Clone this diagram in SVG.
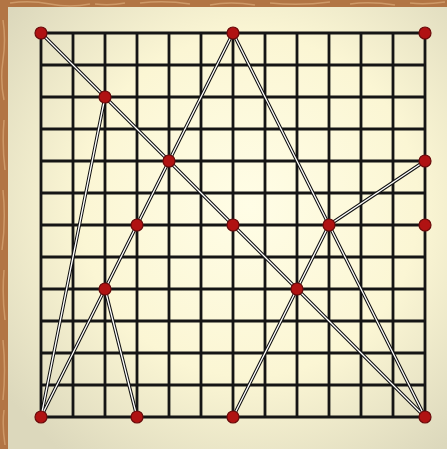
<svg xmlns="http://www.w3.org/2000/svg" width="447" height="449" viewBox="0 0 447 449">
<defs>
<radialGradient id="bg" cx="0.55" cy="0.45" r="0.7">
<stop offset="0" stop-color="#fffde6"/>
<stop offset="0.55" stop-color="#fbf6d4"/>
<stop offset="1" stop-color="#dcd8bc"/>
</radialGradient>
</defs>
<style>
.grid line{stroke:#151515;stroke-width:2.8}
.edge-o{stroke:#111;stroke-width:3.4;fill:none;stroke-linecap:round}
.edge-i{stroke:#fff;stroke-width:1.3;fill:none;stroke-linecap:round}
.dot{fill:#b01212;stroke:#6a0a0a;stroke-width:1.2}
</style>
<rect x="0" y="0" width="447" height="449" fill="#b27544"/>
<g stroke="#d9a978" stroke-width="1.5" fill="none" opacity="0.7">
<path d="M10 3 q20 -3 40 1 t40 0 M95 4 q15 2 30 -1 M140 3 q25 -3 50 1 M210 5 q20 -4 45 0 M270 3 q30 3 60 -1 M350 4 q20 -3 45 1 M410 3 q15 2 35 -1"/>
<path d="M3 20 q3 20 0 40 t1 40 M4 120 q-2 25 1 50 M3 190 q3 30 -1 60 M4 270 q-2 25 1 50 M3 340 q3 30 0 60 M4 410 q-2 15 1 35"/>
</g>
<rect x="8" y="7" width="439" height="442" fill="url(#bg)"/>
<g class="grid" id="grid">
<line x1="41" y1="33" x2="425" y2="33"/>
<line x1="41" y1="65" x2="425" y2="65"/>
<line x1="41" y1="97" x2="425" y2="97"/>
<line x1="41" y1="129" x2="425" y2="129"/>
<line x1="41" y1="161" x2="425" y2="161"/>
<line x1="41" y1="193" x2="425" y2="193"/>
<line x1="41" y1="225" x2="425" y2="225"/>
<line x1="41" y1="257" x2="425" y2="257"/>
<line x1="41" y1="289" x2="425" y2="289"/>
<line x1="41" y1="321" x2="425" y2="321"/>
<line x1="41" y1="353" x2="425" y2="353"/>
<line x1="41" y1="385" x2="425" y2="385"/>
<line x1="41" y1="417" x2="425" y2="417"/>
<line x1="41" y1="33" x2="41" y2="417"/>
<line x1="73" y1="33" x2="73" y2="417"/>
<line x1="105" y1="33" x2="105" y2="417"/>
<line x1="137" y1="33" x2="137" y2="417"/>
<line x1="169" y1="33" x2="169" y2="417"/>
<line x1="201" y1="33" x2="201" y2="417"/>
<line x1="233" y1="33" x2="233" y2="417"/>
<line x1="265" y1="33" x2="265" y2="417"/>
<line x1="297" y1="33" x2="297" y2="417"/>
<line x1="329" y1="33" x2="329" y2="417"/>
<line x1="361" y1="33" x2="361" y2="417"/>
<line x1="393" y1="33" x2="393" y2="417"/>
<line x1="425" y1="33" x2="425" y2="417"/>
</g>
<g id="connectors">
<g class="edge-o">
<path d="M41 33 L425 417"/>
<path d="M233 33 L41 417"/>
<path d="M233 33 L425 417"/>
<path d="M105 97 L41 417"/>
<path d="M105 289 L137 417"/>
<path d="M425 161 L329 225 L233 417"/>
</g>
<g class="edge-i">
<path d="M41 33 L425 417"/>
<path d="M233 33 L41 417"/>
<path d="M233 33 L425 417"/>
<path d="M105 97 L41 417"/>
<path d="M105 289 L137 417"/>
<path d="M425 161 L329 225 L233 417"/>
</g>
</g>
<g id="nodes">
<g id="n0"><circle class="dot" cx="41" cy="33" r="6"/></g>
<g id="n1"><circle class="dot" cx="233" cy="33" r="6"/></g>
<g id="n2"><circle class="dot" cx="425" cy="33" r="6"/></g>
<g id="n3"><circle class="dot" cx="105" cy="97" r="6"/></g>
<g id="n4"><circle class="dot" cx="169" cy="161" r="6"/></g>
<g id="n5"><circle class="dot" cx="425" cy="161" r="6"/></g>
<g id="n6"><circle class="dot" cx="137" cy="225" r="6"/></g>
<g id="n7"><circle class="dot" cx="233" cy="225" r="6"/></g>
<g id="n8"><circle class="dot" cx="329" cy="225" r="6"/></g>
<g id="n9"><circle class="dot" cx="425" cy="225" r="6"/></g>
<g id="n10"><circle class="dot" cx="105" cy="289" r="6"/></g>
<g id="n11"><circle class="dot" cx="297" cy="289" r="6"/></g>
<g id="n12"><circle class="dot" cx="41" cy="417" r="6"/></g>
<g id="n13"><circle class="dot" cx="137" cy="417" r="6"/></g>
<g id="n14"><circle class="dot" cx="233" cy="417" r="6"/></g>
<g id="n15"><circle class="dot" cx="425" cy="417" r="6"/></g>
</g>
</svg>
